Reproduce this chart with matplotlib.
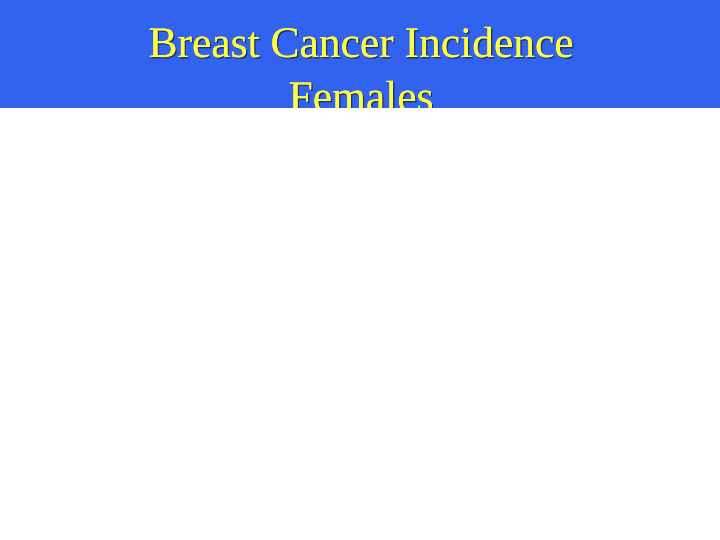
import matplotlib
matplotlib.use("Agg")
import matplotlib.pyplot as plt
import matplotlib.patheffects as pe

# 슬라이드 제목 (본문은 비어 있음)
title_lines = ["Breast Cancer Incidence", "Females"]

BAND_COLOR = "#3162f0"
TEXT_COLOR = "#ffff40"
BAND_H = 107.5 / 540

fig = plt.figure(figsize=(10, 7.5), dpi=72)
fig.patch.set_facecolor("white")

ax = fig.add_axes([0, 1 - BAND_H, 1, BAND_H])
ax.set_facecolor(BAND_COLOR)
ax.set_xlim(0, 720)
ax.set_ylim(107.5, 0)
ax.set_xticks([])
ax.set_yticks([])
for s in ax.spines.values():
    s.set_visible(False)

shadow = [pe.withSimplePatchShadow(offset=(1.5, -1.5), shadow_rgbFace="#1a2a60", alpha=0.8), pe.Normal()]
baselines = [57, 111]
for line, yb in zip(title_lines, baselines):
    ax.text(361, yb, line, ha="center", va="baseline", fontsize=43.5,
            family="Liberation Serif", color=TEXT_COLOR, clip_on=True,
            path_effects=shadow)

fig.savefig("out.png", dpi=72)
